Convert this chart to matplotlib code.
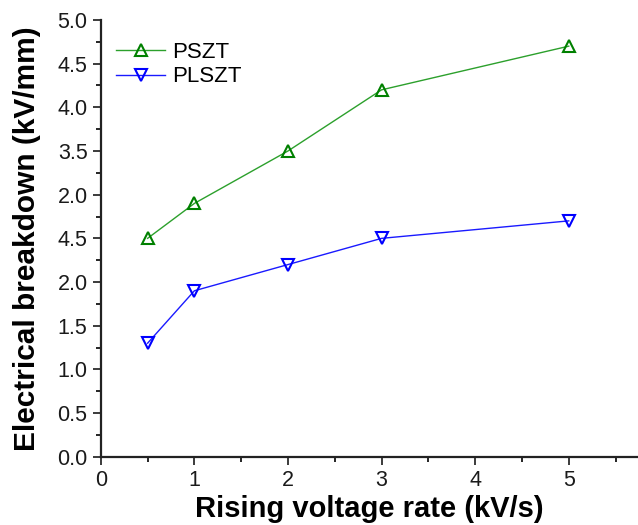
import numpy as np
import matplotlib.pyplot as plt
from matplotlib.ticker import MultipleLocator

plt.rcParams["font.family"] = ["Liberation Sans", "DejaVu Sans"]

rate = [0.5, 1, 2, 3, 5]
pszt = [2.5, 2.9, 3.5, 4.2, 4.7]
plszt = [1.3, 1.9, 2.2, 2.5, 2.7]

y_ticks = np.arange(0, 5.01, 0.5)
y_labels = ["0.0", "0.5", "1.0", "1.5", "2.0", "4.5", "2.0", "3.5", "4.0", "4.5", "5.0"]

fig = plt.figure(figsize=(6.38, 5.25), dpi=100)
ax = fig.add_axes([0.158, 0.13, 0.842, 0.832])

ax.plot(rate, pszt, color="#2ca02c", lw=1.0, marker="^", ms=8, mfc="none",
        mec="#008000", mew=1.5, label="PSZT")
ax.plot(rate, plszt, color="#1a1aff", lw=1.0, marker="v", ms=8, mfc="none",
        mec="#0000ff", mew=1.5, label="PLSZT")

ax.set_xlim(0, 5.74)
ax.set_ylim(0, 5.0)
ax.xaxis.set_major_locator(MultipleLocator(1))
ax.xaxis.set_minor_locator(MultipleLocator(0.5))
ax.set_yticks(y_ticks)
ax.set_yticklabels(y_labels)
ax.yaxis.set_minor_locator(MultipleLocator(0.25))

ax.tick_params(axis="both", which="major", direction="out", length=6, width=1.2,
               labelsize=15.5, colors="#1a1a1a")
ax.tick_params(axis="both", which="minor", direction="out", length=3.5, width=1.2)

for spine in ["top", "right"]:
    ax.spines[spine].set_visible(False)
for spine in ["left", "bottom"]:
    ax.spines[spine].set_linewidth(1.6)
    ax.spines[spine].set_color("#222222")

ax.set_xlabel("Rising voltage rate (kV/s)", fontsize=21, fontweight="bold", labelpad=3)
ax.set_ylabel("Electrical breakdown (kV/mm)", fontsize=21.5, fontweight="bold", labelpad=12)

ax.legend(loc="upper left", frameon=False, fontsize=16, handlelength=2.2,
          borderaxespad=0.3, labelspacing=0.15, handletextpad=0.3,
          bbox_to_anchor=(0.0, 0.985))

fig.savefig("out.png", dpi=100)
